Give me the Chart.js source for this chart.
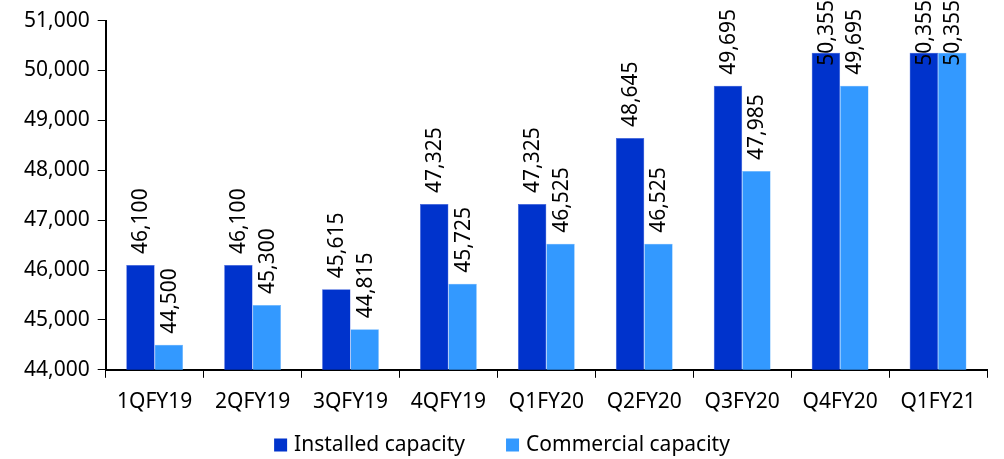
<!DOCTYPE html>
<html><head><meta charset="utf-8">
<script src="https://cdn.jsdelivr.net/npm/chart.js@4/dist/chart.umd.min.js"></script>
<style>html,body{margin:0;padding:0;background:#fff}#wrap{width:1004px;height:459px}</style>
</head><body><div id="wrap"><canvas id="c" width="1004" height="459"></canvas></div>
<script>
const categories = ["1QFY19","2QFY19","3QFY19","4QFY19","Q1FY20","Q2FY20","Q3FY20","Q4FY20","Q1FY21"];
const installed = [46100,46100,45615,47325,47325,48645,49695,50355,50355];
const commercial = [44500,45300,44815,45725,46525,46525,47985,49695,50355];
const yTicks = [44000,45000,46000,47000,48000,49000,50000,51000];
const seriesNames = ['Installed capacity', 'Commercial capacity'];
const seriesColors = ['#0033CC', '#3399FF'];
const FONT = "'Noto Sans', sans-serif";
const FS = 21;

const labelPlugin = {
  id: 'vlabels',
  afterDatasetsDraw(chart) {
    const ctx = chart.ctx;
    ctx.save();
    ctx.font = FS + "px " + FONT;
    ctx.fillStyle = "#000";
    ctx.textBaseline = "middle";
    ctx.textAlign = "left";
    chart.data.datasets.forEach((ds, di) => {
      const meta = chart.getDatasetMeta(di);
      meta.data.forEach((bar, i) => {
        const txt = ds.data[i].toLocaleString('en-US');
        const w = ctx.measureText(txt).width;
        let yb = bar.y - 11;
        if (yb - w < 0) yb = w;
        ctx.save();
        ctx.translate(bar.x + 1, yb);
        ctx.rotate(-Math.PI / 2);
        ctx.fillText(txt, 0, 0);
        ctx.restore();
      });
    });
    ctx.restore();
  }
};

const legendPlugin = {
  id: 'customLegend',
  afterDraw(chart) {
    const ctx = chart.ctx;
    ctx.save();
    ctx.font = FS + "px " + FONT;
    ctx.textBaseline = "middle";
    ctx.textAlign = "left";
    const box = 13, gap = 7, itemGap = 41;
    const widths = seriesNames.map(n => ctx.measureText(n).width);
    const total = widths.reduce((a, w) => a + box + gap + w, 0) + itemGap * (seriesNames.length - 1);
    let x = chart.width / 2 - total / 2;
    const yc = 445;
    seriesNames.forEach((n, i) => {
      ctx.fillStyle = seriesColors[i];
      ctx.fillRect(x, yc - box / 2, box, box);
      x += box + gap;
      ctx.fillStyle = '#000';
      ctx.fillText(n, x, yc);
      x += widths[i] + itemGap;
    });
    ctx.restore();
  }
};

new Chart(document.getElementById('c'), {
  type: 'bar',
  data: {
    labels: categories,
    datasets: [
      {label: seriesNames[0], data: installed, backgroundColor: seriesColors[0], borderColor: '#3355DD', borderWidth: 0.5},
      {label: seriesNames[1], data: commercial, backgroundColor: seriesColors[1], borderColor: '#66B3FF', borderWidth: 0.5}
    ]
  },
  options: {
    responsive: false,
    animation: false,
    devicePixelRatio: 1,
    layout: {padding: {top: 0, right: 17, left: 16, bottom: 32}},
    datasets: {bar: {barPercentage: 1.0, categoryPercentage: 0.58}},
    plugins: {
      legend: {display: false},
      tooltip: {enabled: false}
    },
    scales: {
      x: {
        grid: {display: true, drawOnChartArea: false, color: '#000', tickLength: 8, offset: true},
        border: {color: '#000', width: 2},
        ticks: {font: {family: FONT, size: FS}, color: '#000', padding: 12, maxRotation: 0}
      },
      y: {
        min: 44000, max: 51000,
        afterBuildTicks(axis) { axis.ticks = yTicks.map(v => ({value: v})); },
        grid: {display: true, drawOnChartArea: false, color: '#000', tickLength: 8},
        border: {color: '#000', width: 2},
        ticks: {font: {family: FONT, size: FS}, color: '#000', padding: 8, callback: v => v.toLocaleString('en-US')}
      }
    }
  },
  plugins: [labelPlugin, legendPlugin]
});
</script></body></html>
